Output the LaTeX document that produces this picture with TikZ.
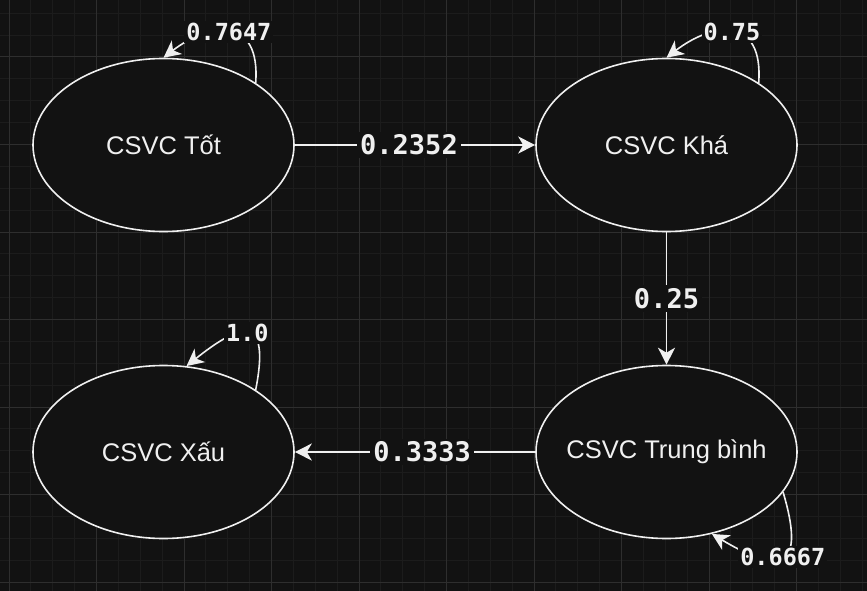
\documentclass[tikz,border=0pt]{standalone}
\usepackage{fontspec}
\setmainfont{Liberation Sans}
\newfontfamily\monolabel{DejaVu Sans Mono}
\usetikzlibrary{arrows.meta,shapes.geometric}
\definecolor{canvas}{HTML}{121212}
\definecolor{gridminor}{HTML}{1C1C1C}
\definecolor{gridmajor}{HTML}{2E2E2E}
\definecolor{ink}{HTML}{F0F0F0}
\begin{document}
\begin{tikzpicture}[
		x=1pt, y=-1pt,
		state/.style = {
			ellipse,
			draw = ink,
			fill = canvas,
			line width = 1.6pt,
			minimum width = 261pt,
			minimum height = 173pt,
			label = {[statetext]center:#1}
		},
		statetext/.style = {
			text = ink,
			font = \fontsize{25.5}{30}\selectfont
		},
		edge/.style = {
			draw = ink,
			line width = 1.6pt,
			-{Stealth[length=17pt,width=17pt,inset=5pt]}
		},
		elabel/.style = {
			fill = canvas,
			text = ink,
			inner sep = 3pt,
			font = \monolabel\bfseries\fontsize{27}{30}\selectfont
		},
		llabel/.style = {
			elabel,
			inner sep = 2pt,
			font = \monolabel\bfseries\fontsize{23.5}{26}\selectfont
		}
	]
	\useasboundingbox (0,0) rectangle (867,591);
	\fill[canvas] (0,0) rectangle (867,591);
	\foreach \i in {0,...,39}
		\draw[gridminor, line width=1pt] ({9+21.875*\i},0) -- ++(0,591);
	\foreach \i in {-2,...,24}
		\draw[gridminor, line width=1pt] (0,{57+21.875*\i}) -- ++(867,0);
	\foreach \i in {0,...,9}
		\draw[gridmajor, line width=1pt] ({9+87.5*\i},0) -- ++(0,591);
	\foreach \i in {0,...,6}
		\draw[gridmajor, line width=1pt] (0,{57+87.5*\i}) -- ++(867,0);

	\node[state={CSVC Tốt}]        (T)  at (163.5,145) {};
	\node[state={CSVC Khá}]        (K)  at (666.5,145) {};
	\node[state={CSVC Trung bình}] (TB) at (666.5,452) {};
	\node[state={CSVC Xấu}]        (X)  at (163.5,452) {};

	\draw[edge] (T) -- node[elabel, pos=0.475] {0.2352} (K);
	\draw[edge] (K) -- node[elabel] {0.25} (TB);
	\draw[edge] (TB) -- node[elabel, pos=0.47] {0.3333} (X);

	\draw[edge] (T.34) .. controls +(5,-67) and +(46.5,-36) .. (T.north)
		node[pos=0.5, llabel] {0.7647};
	\draw[edge] (K.34) .. controls +(5,-67) and +(46.5,-36) .. (K.north)
		node[pos=0.5, llabel] {0.75};
	\draw[edge] (X.34) .. controls +(15,-76) and +(55,-44) .. (X.75)
		node[pos=0.5, llabel] {1.0};
	\draw[edge] (TB.-19.5) .. controls +(22,74) and +(72,43) .. (TB.-61)
		node[pos=0.5, llabel] {0.6667};
\end{tikzpicture}
\end{document}
